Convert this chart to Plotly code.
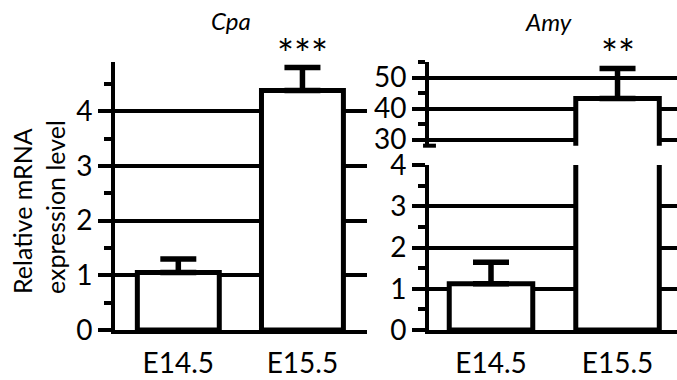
import plotly.graph_objects as go

# ---------------- data ----------------
categories = ["E14.5", "E15.5"]
cpa_mean = [1.05, 4.38]
cpa_err = [0.25, 0.42]
amy_mean = [1.12, 43.2]
amy_err = [0.52, 9.7]
cpa_ticks = [0, 1, 2, 3, 4]
amy_low_ticks = [0, 1, 2, 3, 4]
amy_high_ticks = [30, 40, 50]
sig_cpa = "***"
sig_amy = "**"
gene_titles = ["Cpa", "Amy"]
y_title = "Relative mRNA<br>expression level"

# ---------------- layout helpers ----------------
W, H = 677, 380
FONT = "Lato"
BLACK = "black"
LW = 5


def fx(p):
    return p / W


def fy(p):
    return 1 - p / H


def bar(y, err, xa, ya):
    return go.Bar(
        x=categories, y=y, xaxis=xa, yaxis=ya, width=0.66,
        marker=dict(color="white", line=dict(color=BLACK, width=LW)),
        error_y=dict(type="data", array=err, arrayminus=[0] * len(err),
                     symmetric=False, color=BLACK, thickness=5.5, width=18),
        showlegend=False, hoverinfo="skip",
    )


fig = go.Figure()
fig.add_trace(bar(cpa_mean, cpa_err, "x", "y"))
fig.add_trace(bar(amy_mean, amy_err, "x2", "y2"))
fig.add_trace(bar(amy_mean, amy_err, "x2", "y3"))


def yax(domain, rng, ticks, minor_dtick, anchor):
    return dict(
        domain=domain, range=rng, anchor=anchor, automargin=False,
        tickmode="array", tickvals=ticks, ticktext=[str(t) for t in ticks],
        showline=True, linecolor=BLACK, linewidth=4,
        ticks="outside", ticklen=13, tickwidth=4, tickcolor=BLACK,
        showgrid=True, gridcolor=BLACK, gridwidth=4, zeroline=False,
        tickfont=dict(family=FONT, size=28, color=BLACK),
        minor=dict(ticks="outside", ticklen=7, tickwidth=4, tickcolor=BLACK,
                   dtick=minor_dtick, tick0=0, showgrid=False),
        fixedrange=True,
    )


def xax(domain, rng, anchor):
    return dict(
        domain=domain, range=rng, anchor=anchor, automargin=False,
        showline=True, linecolor=BLACK, linewidth=4,
        ticks="", showgrid=False, zeroline=False,
        tickfont=dict(family=FONT, size=28, color=BLACK),
        ticklabelstandoff=5, fixedrange=True,
    )


fig.update_layout(
    width=W, height=H,
    margin=dict(l=0, r=0, t=0, b=0, autoexpand=False),
    paper_bgcolor="white", plot_bgcolor="white",
    showlegend=False,
    xaxis=xax([fx(115), fx(367)], [-0.51, 1.52], "y"),
    yaxis=yax([fy(330), fy(62)], [0, 4.9], cpa_ticks, 0.5, "x"),
    xaxis2=xax([fx(429), 1.0], [-0.49, 1.47], "y2"),
    yaxis2=yax([fy(330), fy(165)], [0, 4], amy_low_ticks, 0.5, "x2"),
    yaxis3=yax([fy(145.7), fy(62)], [28, 55], amy_high_ticks, 5, "x2"),
)

# break marker at bottom of upper Amy axis
fig.add_shape(type="line", xref="x2 domain", yref="y3 domain",
              x0=-0.024, x1=0.028, y0=0, y1=0,
              line=dict(color=BLACK, width=4))

ann_common = dict(showarrow=False, xanchor="center", yanchor="middle")
annotations = [
    dict(text=f"<i>{gene_titles[0]}</i>", x=fx(231), y=fy(21), xref="paper", yref="paper",
         font=dict(family=FONT, size=24, color=BLACK), **ann_common),
    dict(text=f"<i>{gene_titles[1]}</i>", x=fx(548), y=fy(22), xref="paper", yref="paper",
         font=dict(family=FONT, size=24, color=BLACK), **ann_common),
    dict(text=sig_cpa, x=categories[1], xref="x", y=fy(54), yref="paper",
         font=dict(family=FONT, size=40, color=BLACK), **ann_common),
    dict(text=sig_amy, x=categories[1], xref="x2", y=fy(54), yref="paper",
         font=dict(family=FONT, size=40, color=BLACK), **ann_common),
    dict(text=y_title, x=fx(38), y=fy(207), xref="paper", yref="paper",
         textangle=-90, align="left",
         font=dict(family=FONT, size=25, color=BLACK), **ann_common),
]
fig.update_layout(annotations=annotations)

fig.write_html("out.html", config={"displayModeBar": False},
               post_script="document.body.style.margin='0';document.body.style.padding='0';")
